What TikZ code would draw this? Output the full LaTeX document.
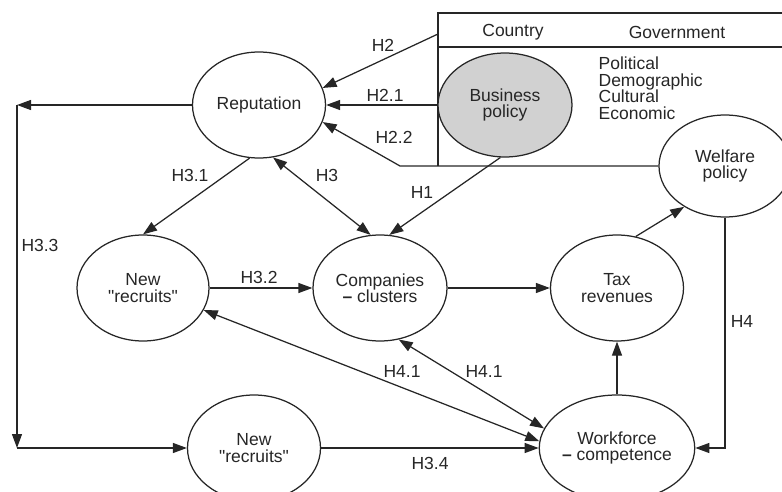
\documentclass[tikz,border=0pt]{standalone}
\usepackage{fontspec}
% no TeX ligature mapping, so " stays a straight quote
\newfontfamily\labelfont{Liberation Sans}
\usetikzlibrary{shapes.geometric,arrows.meta}

\begin{document}
\begin{tikzpicture}[x=1pt,y=-1pt,
  line width=1.25pt,
  every node/.style={font=\labelfont\fontsize{17.5}{16.5}\selectfont, text=black!85},
  oval/.style={ellipse, draw=black!85, inner sep=0pt, align=center,
               minimum width=133pt, minimum height=106pt},
  arr/.style={draw=black!85, -{Triangle[length=14pt,width=10pt]}},
  darr/.style={draw=black!85, {Triangle[length=14pt,width=10pt]}-{Triangle[length=14pt,width=10pt]}},
  plain/.style={draw=black!85},
  lbl/.style={inner sep=1pt}]

\useasboundingbox (0,0) rectangle (782,492);
\clip (0,0) rectangle (782,492);

% country / government frame
\draw[plain] (438,166) -- (438,13) -- (782,13);
\draw[plain] (438,47) -- (782,47);
\node[lbl] (country) at (513,32) {Country};
\node[lbl] (gov) at (677,32) {Government};
\node[lbl, anchor=west, align=left] (dims) at (597,88)
  {Political\\Demographic\\Cultural\\Economic};

% concepts
\node[oval] (rep) at (259,105) {Reputation};
\node[oval, fill=black!18, minimum width=134pt, minimum height=104pt] (bus) at (505,105) {Business\\policy};
\node[oval, minimum width=132pt, minimum height=102pt] (wel) at (725,166) {Welfare\\policy};
\node[oval, minimum width=132pt] (nr1) at (143,288) {New\\"recruits"};
\node[oval, minimum width=134pt] (comp) at (380,288) {Companies\\{\bfseries –} clusters};
\node[oval] (tax) at (617,288) {Tax\\revenues};
\node[oval, minimum width=132pt] (work) at (617,448) {Workforce\\{\bfseries –} competence};
\node[oval] (nr2) at (254,448) {New\\"recruits"};

% route points
\coordinate (h2s) at (438,34);
\coordinate (bend) at (400,166);
\coordinate (loopT) at (17,105);
\coordinate (loopB) at (17,448);

% links into reputation
\draw[arr] (h2s) -- (rep.15);
\draw[arr] (bus.west) -- (rep.east);
\draw[arr] (wel.west) -- (bend) -- (rep.-15);
\node[lbl] (lh2) at (383,45) {H2};
\node[lbl] (lh21) at (385,95) {H2.1};
\node[lbl] (lh22) at (394,137) {H2.2};

% reputation feedback loop
\draw[arr] (rep.west) -- (loopT);
\draw[arr] (loopT) -- (loopB);
\draw[arr] (loopB) -- (nr2.west);
\node[lbl] (lh33) at (40,245) {H3.3};

% middle row
\draw[arr] (rep.260) -- (nr1.north);
\node[lbl] (lh31) at (190,175) {H3.1};
\draw[darr] (rep.-75) -- (comp.100);
\node[lbl] (lh3) at (327,175) {H3};
\draw[arr] (bus.265) -- (comp.80);
\node[lbl] (lh1) at (422,192) {H1};
\draw[arr] (nr1.east) -- (comp.west);
\node[lbl] (lh32) at (259,277) {H3.2};
\draw[arr] (comp.east) -- (tax.west);
\draw[arr] (tax.70) -- (wel.-135);

% workforce links
\draw[arr] (wel.south) |- (work.east);
\node[lbl] (lh4) at (742,321) {H4};
\draw[arr] (work.north) -- (tax.south);
\draw[darr] (comp.-70) -- (work.165);
\node[lbl] (lh41b) at (484,371) {H4.1};
\draw[darr] (nr1.-20) -- (work.175);
\node[lbl] (lh41a) at (402,371) {H4.1};
\draw[arr] (nr2.east) -- (work.west);
\node[lbl] (lh34) at (430,463) {H3.4};

\end{tikzpicture}
\end{document}
